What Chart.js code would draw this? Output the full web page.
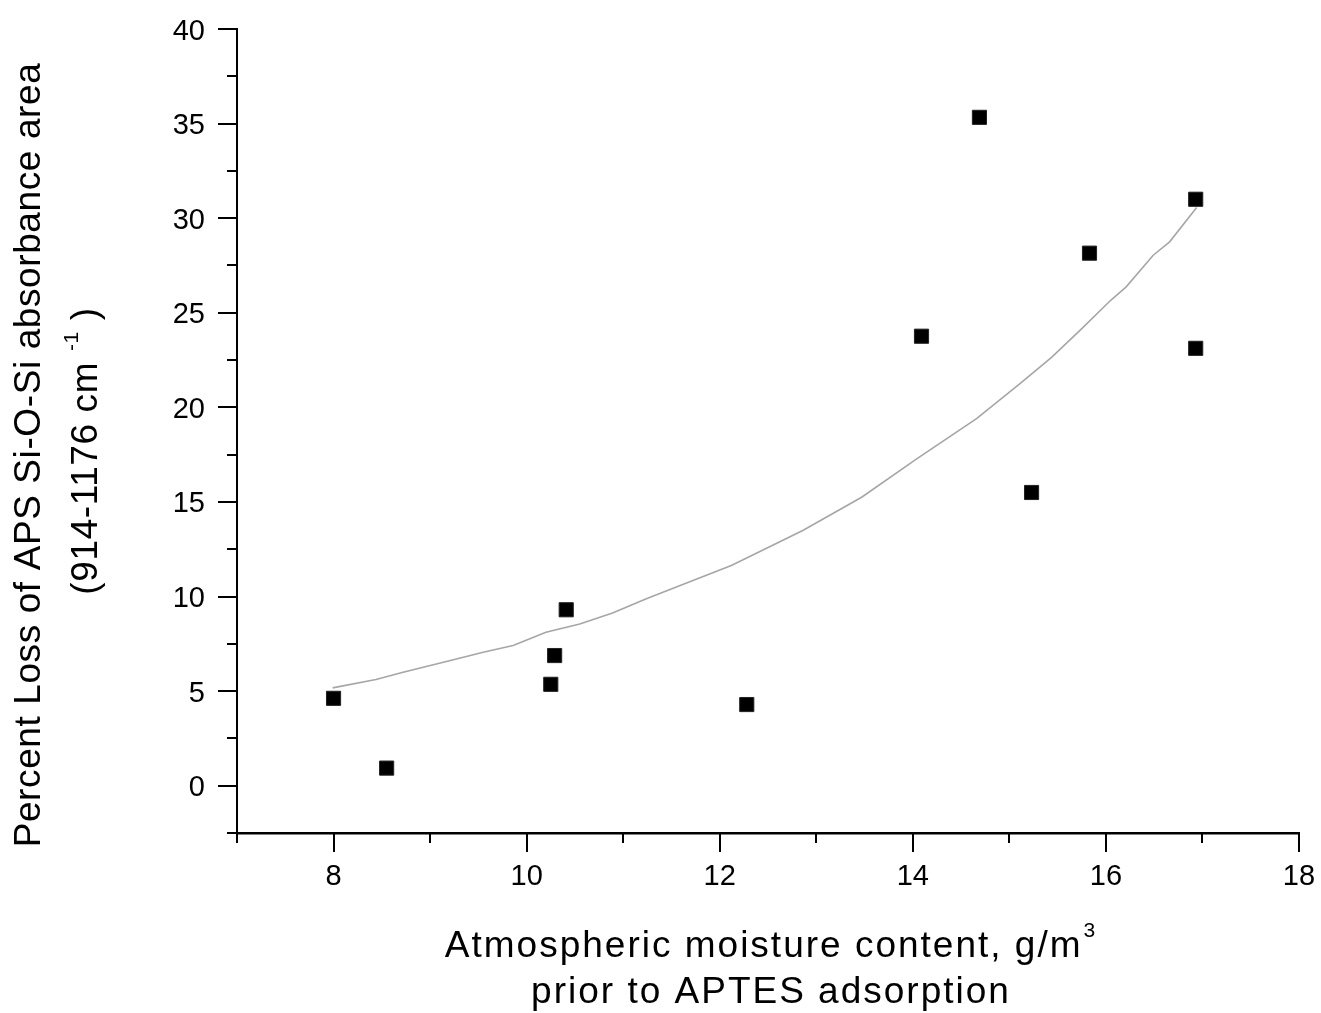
<!DOCTYPE html>
<html>
<head>
<meta charset="utf-8">
<script src="https://cdn.jsdelivr.net/npm/chart.js@4.4.1/dist/chart.umd.min.js"></script>
<style>
html,body{margin:0;padding:0;background:#fff;}
canvas{display:block;}
</style>
</head>
<body>
<canvas id="c" width="1321" height="1013" style="width:1321px;height:1013px"></canvas>
<script>
// Measured points
const moistureX = [8.0, 8.55, 10.25, 10.29, 10.41, 12.28, 14.09, 14.69, 15.23, 15.83, 16.93, 16.93];
const lossY     = [4.62, 0.93, 5.36, 6.88, 9.30, 4.29, 23.76, 35.33, 15.50, 28.15, 31.0, 23.12];
// Fitted curve
const fitX = [7.99, 8.44, 8.72, 9.20, 9.55, 9.86, 10.20, 10.55, 10.89, 11.24, 11.59, 12.12, 12.86, 13.47, 14.04, 14.66, 15.11, 15.44, 15.75, 16.05, 16.21, 16.49, 16.66, 16.94];
const fitY = [5.17, 5.61, 6.00, 6.61, 7.05, 7.41, 8.11, 8.55, 9.13, 9.88, 10.58, 11.64, 13.49, 15.25, 17.28, 19.40, 21.25, 22.66, 24.16, 25.66, 26.37, 28.04, 28.75, 30.56];
// Tick labels
const xMajorTicks = [8, 10, 12, 14, 16, 18];
const xMinorTicks = [7, 9, 11, 13, 15, 17];
const yMajorTicks = [0, 5, 10, 15, 20, 25, 30, 35, 40];
const yMinorTicks = [-2.5, 2.5, 7.5, 12.5, 17.5, 22.5, 27.5, 32.5, 37.5];
const xTitle1 = "Atmospheric moisture content, g/m";
const xTitleSup = "3";
const xTitle2 = "prior to APTES adsorption";
const yTitle1 = "Percent Loss of APS Si-O-Si absorbance area";
const yTitle2a = "(914-1176 cm";
const yTitleSup = "-1";
const yTitle2b = ")";

const FONT = "'Liberation Sans', Arial, Helvetica, sans-serif";

const tickPlugin = {
  id: 'customTicks',
  afterDraw(chart) {
    const ctx = chart.ctx;
    const xs = chart.scales.x, ys = chart.scales.y;
    ctx.save();
    ctx.strokeStyle = '#000';
    ctx.lineWidth = 2;
    const xb = ys.getPixelForValue(-2.5);
    const yl = xs.getPixelForValue(7);
    xMajorTicks.forEach(v => { const p = Math.round(xs.getPixelForValue(v)); ctx.beginPath(); ctx.moveTo(p, xb); ctx.lineTo(p, xb + 19); ctx.stroke(); });
    xMinorTicks.forEach(v => { const p = Math.round(xs.getPixelForValue(v)); ctx.beginPath(); ctx.moveTo(p, xb); ctx.lineTo(p, xb + 10); ctx.stroke(); });
    yMajorTicks.forEach(v => { const p = Math.round(ys.getPixelForValue(v)); ctx.beginPath(); ctx.moveTo(yl, p); ctx.lineTo(yl - 19, p); ctx.stroke(); });
    yMinorTicks.forEach(v => { const p = Math.round(ys.getPixelForValue(v)); ctx.beginPath(); ctx.moveTo(yl, p); ctx.lineTo(yl - 10, p); ctx.stroke(); });

    // tick labels
    ctx.fillStyle = '#000';
    ctx.font = '29px ' + FONT;
    ctx.textAlign = 'center';
    ctx.textBaseline = 'alphabetic';
    xMajorTicks.forEach(v => ctx.fillText(String(v), xs.getPixelForValue(v), xb + 52));
    ctx.textAlign = 'right';
    yMajorTicks.forEach(v => ctx.fillText(String(v), yl - 32, ys.getPixelForValue(v) + 10.5));

    // X title
    ctx.font = '37px ' + FONT;
    ctx.letterSpacing = '2px';
    ctx.textAlign = 'left';
    const w1 = ctx.measureText(xTitle1).width;
    ctx.font = '21px ' + FONT;
    ctx.letterSpacing = '0px';
    const ws = ctx.measureText(xTitleSup).width;
    const cx = (xs.left + xs.right) / 2 + 3;
    const total = w1 + 3 + ws;
    let sx = cx - total / 2;
    ctx.font = '37px ' + FONT;
    ctx.letterSpacing = '2px';
    ctx.fillText(xTitle1, sx, 957);
    ctx.font = '21px ' + FONT;
    ctx.letterSpacing = '0px';
    ctx.fillText(xTitleSup, sx + w1 + 1, 937);
    ctx.font = '37px ' + FONT;
    ctx.letterSpacing = '2px';
    ctx.textAlign = 'center';
    ctx.fillText(xTitle2, cx, 1003);

    // Y title
    ctx.save();
    ctx.translate(40, 455);
    ctx.rotate(-Math.PI / 2);
    ctx.font = '37px ' + FONT;
    ctx.letterSpacing = '0.6px';
    ctx.textAlign = 'center';
    ctx.fillText(yTitle1, 0, 0);
    ctx.restore();

    ctx.save();
    ctx.translate(97, 451);
    ctx.rotate(-Math.PI / 2);
    ctx.textAlign = 'left';
    ctx.font = '37px ' + FONT;
    ctx.letterSpacing = '0.6px';
    const a = ctx.measureText(yTitle2a).width;
    const sp = ctx.measureText(' ').width;
    const b = ctx.measureText(yTitle2b).width;
    ctx.font = '21px ' + FONT;
    const s = ctx.measureText(yTitleSup).width;
    const tot = a + sp + s + sp + b;
    let px = -tot / 2;
    ctx.font = '37px ' + FONT;
    ctx.fillText(yTitle2a, px, 0);
    px += a + sp;
    ctx.font = '21px ' + FONT;
    ctx.fillText(yTitleSup, px, -19);
    px += s + sp;
    ctx.font = '37px ' + FONT;
    ctx.fillText(yTitle2b, px, 0);
    ctx.restore();

    ctx.restore();
  }
};

const markerData = moistureX.map((x, i) => ({x: x, y: lossY[i]}));
const fitData = fitX.map((x, i) => ({x: x, y: fitY[i]}));

new Chart(document.getElementById('c'), {
  type: 'scatter',
  data: {
    datasets: [
      {
        label: 'fit',
        data: fitData,
        showLine: true,
        borderColor: '#a6a6a6',
        borderWidth: 1.6,
        pointRadius: 0,
        fill: false,
        tension: 0,
        order: 2
      },
      {
        label: 'data',
        data: markerData,
        pointStyle: 'rect',
        pointRadius: 10,
        pointBackgroundColor: '#000',
        pointBorderColor: '#222',
        pointBorderWidth: 1,
        showLine: false,
        order: 1
      }
    ]
  },
  options: {
    responsive: false,
    animation: false,
    devicePixelRatio: 1,
    layout: { padding: { left: 0, top: 29, right: 22, bottom: 0 } },
    plugins: { legend: { display: false }, tooltip: { enabled: false }, title: { display: false } },
    scales: {
      x: {
        type: 'linear',
        min: 7, max: 18,
        grid: { display: false, drawTicks: false },
        border: { display: true, color: '#000', width: 2.5 },
        ticks: { display: false },
        afterFit(scale) { scale.height = 180; }
      },
      y: {
        type: 'linear',
        min: -2.5, max: 40,
        grid: { display: false, drawTicks: false },
        border: { display: true, color: '#000', width: 2 },
        ticks: { display: false },
        afterFit(scale) { scale.width = 237; }
      }
    }
  },
  plugins: [tickPlugin]
});
</script>
</body>
</html>
